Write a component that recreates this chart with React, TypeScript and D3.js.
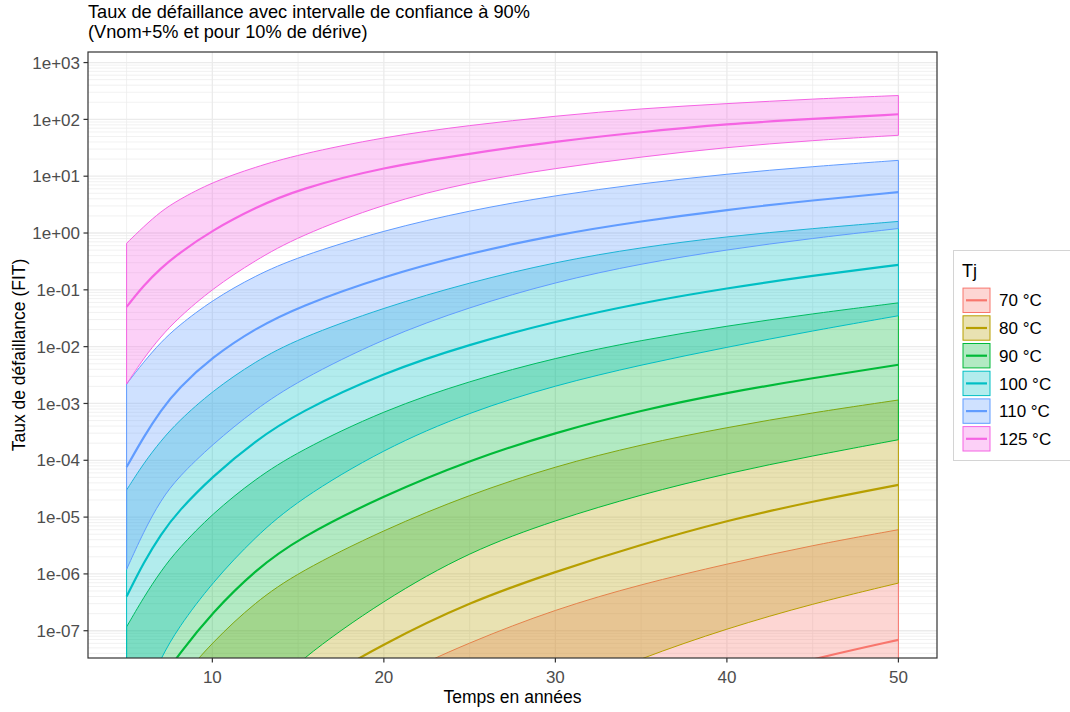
import React from "react";
import * as d3 from "d3";

// ---- data (FIT values) ----
const years = [5, 6, 7, 8, 10, 12.5, 15, 20, 25, 30, 35, 40, 45, 50];
const tjLabels = ["70 °C", "80 °C", "90 °C", "100 °C", "110 °C", "125 °C"];
const tjColors = ["#F8766D", "#B79F00", "#00BA38", "#00BFC4", "#619CFF", "#F564E3"];

const lower70 = [5e-18, 1.6e-17, 5e-17, 1.6e-16, 1e-15, 6.3e-15, 3.2e-14, 3.2e-13, 2e-12, 1e-11, 4e-11, 1.26e-10, 4e-10, 1e-9];
const median70 = [1e-15, 4e-15, 1.3e-14, 4e-14, 2.5e-13, 1.6e-12, 7.9e-12, 7.9e-11, 4e-10, 1.4e-9, 4.5e-9, 1.26e-8, 3.2e-8, 6.9e-8];
const upper70 = [5e-13, 1.6e-12, 5e-12, 1.3e-11, 6.3e-11, 3.2e-10, 1.3e-9, 1.3e-8, 6.3e-8, 2.4e-7, 6.6e-7, 1.5e-6, 3.2e-6, 6.0e-6];

const lower80 = [1.6e-14, 5e-14, 1.3e-13, 3.2e-13, 1.3e-12, 6.3e-12, 2.5e-11, 2.5e-10, 1.6e-9, 7.9e-9, 3.3e-8, 1.1e-7, 3.0e-7, 6.9e-7];
const median80 = [1e-12, 4e-12, 1.6e-11, 5e-11, 3.2e-10, 2e-9, 7.9e-9, 6.0e-8, 3.2e-7, 1.1e-6, 3.3e-6, 8.7e-6, 1.9e-5, 3.7e-5];
const upper80 = [2.5e-10, 1e-9, 4e-9, 1.26e-8, 6.3e-8, 3.2e-7, 1.07e-6, 6.0e-6, 2.5e-5, 7.9e-5, 1.9e-4, 3.8e-4, 6.9e-4, 1.15e-3];

const lower90 = [2e-12, 8e-12, 2.5e-11, 8e-11, 6.3e-10, 5e-9, 3.0e-8, 3.5e-7, 2.5e-6, 8.9e-6, 2.5e-5, 5.9e-5, 1.2e-4, 2.3e-4];
const median90 = [1.17e-9, 4.2e-9, 1.32e-8, 3.7e-8, 2.1e-7, 1.17e-6, 4.2e-6, 2.4e-5, 1.0e-4, 3.1e-4, 7.6e-4, 1.55e-3, 2.8e-3, 4.8e-3];
const upper90 = [1.17e-7, 3.9e-7, 1.12e-6, 2.75e-6, 1.15e-5, 4.7e-5, 1.43e-4, 7.6e-4, 2.5e-3, 6.4e-3, 0.013, 0.0232, 0.038, 0.059];

const lower100 = [1.26e-9, 7.1e-9, 3.3e-8, 1.12e-7, 7.1e-7, 4.5e-6, 2.0e-5, 1.6e-4, 7.1e-4, 2.1e-3, 4.8e-3, 9.8e-3, 0.019, 0.035];
const median100 = [4.0e-7, 1.6e-6, 5.0e-6, 1.26e-5, 5.2e-5, 2.2e-4, 6.9e-4, 3.5e-3, 0.011, 0.028, 0.059, 0.107, 0.178, 0.275];
const upper100 = [3.0e-5, 8.9e-5, 2.2e-4, 4.8e-4, 1.66e-3, 5.5e-3, 0.0138, 0.049, 0.135, 0.31, 0.56, 0.87, 1.2, 1.6];

const lower110 = [1.2e-6, 5.6e-6, 2.0e-5, 5.0e-5, 1.9e-4, 7.9e-4, 2.5e-3, 0.0141, 0.050, 0.138, 0.29, 0.51, 0.81, 1.2];
const median110 = [7.6e-5, 2.6e-4, 7.6e-4, 1.82e-3, 6.6e-3, 0.0209, 0.050, 0.174, 0.44, 0.93, 1.62, 2.57, 3.76, 5.25];
const upper110 = [2.2e-3, 5.4e-3, 0.012, 0.023, 0.066, 0.178, 0.38, 1.12, 2.5, 4.6, 7.4, 11, 14.8, 19];

const lower125 = [2.19e-3, 6.3e-3, 0.0151, 0.0316, 0.105, 0.331, 0.87, 3.3, 7.9, 13.8, 21.9, 32.4, 42.7, 52.5];
const median125 = [0.050, 0.12, 0.24, 0.43, 1.12, 2.8, 5.9, 14.5, 25, 41, 60, 83, 102, 123];
const upper125 = [0.66, 1.3, 2.4, 3.8, 7.9, 14.5, 24, 49, 79, 115, 155, 190, 229, 263];

const lowers = [lower70, lower80, lower90, lower100, lower110, lower125];
const medians = [median70, median80, median90, median100, median110, median125];
const uppers = [upper70, upper80, upper90, upper100, upper110, upper125];

const yTicks = [1e-7, 1e-6, 1e-5, 1e-4, 1e-3, 1e-2, 1e-1, 1e0, 1e1, 1e2, 1e3];
const yTickLabels = ["1e-07", "1e-06", "1e-05", "1e-04", "1e-03", "1e-02", "1e-01", "1e+00", "1e+01", "1e+02", "1e+03"];
const xTicks = [10, 20, 30, 40, 50];
const xMinorTicks = [5, 15, 25, 35, 45];

const titleLines = ["Taux de défaillance avec intervalle de confiance à 90%", "(Vnom+5% et pour 10% de dérive)"];
const xTitle = "Temps en années";
const yTitle = "Taux de défaillance (FIT)";
const legendTitle = "Tj";

// ---- layout ----
const W = 1070;
const H = 712;
const P = { left: 88, right: 937, top: 52, bottom: 658 };
const FONT = "'Liberation Sans', Arial, Helvetica, sans-serif";

export default function App() {
  const x = d3.scaleLinear().domain([2.75, 52.25]).range([P.left, P.right]);
  const y = d3.scaleLog().domain([Math.pow(10, -7.48), Math.pow(10, 3.186)]).range([P.bottom, P.top]);

  const minorY: number[] = [];
  for (let n = -8; n <= 3; n++) {
    for (let k = 2; k <= 9; k++) {
      const v = k * Math.pow(10, n);
      const py = y(v);
      if (py > P.top && py < P.bottom) minorY.push(v);
    }
  }

  const areaGen = (lo: number[], hi: number[]) =>
    d3
      .area<number>()
      .x((d) => x(d))
      .y0((_, i) => y(lo[i]))
      .y1((_, i) => y(hi[i]))
      .curve(d3.curveBasis)(years) as string;

  const lineGen = (vals: number[]) =>
    d3
      .line<number>()
      .x((d) => x(d))
      .y((_, i) => y(vals[i]))
      .curve(d3.curveBasis)(years) as string;

  const keyTop = 288;
  const keyStep = 27.7;

  return (
    <svg
      width={W}
      height={H}
      style={{ position: "absolute", left: 0, top: 0, background: "#fff" }}
      fontFamily={FONT}
    >
      <defs>
        <clipPath id="panel-clip">
          <rect x={P.left} y={P.top} width={P.right - P.left} height={P.bottom - P.top} />
        </clipPath>
      </defs>
      <rect x={0} y={0} width={W} height={H} fill="#fff" />

      {/* grid */}
      <g>
        {minorY.map((v, i) => (
          <line key={"my" + i} x1={P.left} x2={P.right} y1={y(v)} y2={y(v)} stroke="#EBEBEB" strokeWidth={0.7} />
        ))}
        {xMinorTicks.map((t) => (
          <line key={"mx" + t} x1={x(t)} x2={x(t)} y1={P.top} y2={P.bottom} stroke="#EBEBEB" strokeWidth={0.7} />
        ))}
        {yTicks.map((v, i) => (
          <line key={"gy" + i} x1={P.left} x2={P.right} y1={y(v)} y2={y(v)} stroke="#EBEBEB" strokeWidth={1.3} />
        ))}
        {xTicks.map((t) => (
          <line key={"gx" + t} x1={x(t)} x2={x(t)} y1={P.top} y2={P.bottom} stroke="#EBEBEB" strokeWidth={1.3} />
        ))}
      </g>

      {/* ribbons and lines */}
      <g clipPath="url(#panel-clip)">
        {tjLabels.map((lab, s) => (
          <path
            key={"rib" + s}
            d={areaGen(lowers[s], uppers[s])}
            fill={tjColors[s]}
            fillOpacity={0.3}
            stroke={tjColors[s]}
            strokeWidth={1}
          />
        ))}
        {tjLabels.map((lab, s) => (
          <path key={"med" + s} d={lineGen(medians[s])} fill="none" stroke={tjColors[s]} strokeWidth={2.2} />
        ))}
      </g>

      {/* panel border */}
      <rect
        x={P.left}
        y={P.top}
        width={P.right - P.left}
        height={P.bottom - P.top}
        fill="none"
        stroke="#333333"
        strokeWidth={1.2}
      />

      {/* y axis */}
      {yTicks.map((v, i) => (
        <g key={"yt" + i}>
          <line x1={P.left - 4.5} x2={P.left} y1={y(v)} y2={y(v)} stroke="#333333" strokeWidth={1.2} />
          <text x={P.left - 8} y={y(v)} dy="0.36em" textAnchor="end" fontSize={17} fill="#4D4D4D">
            {yTickLabels[i]}
          </text>
        </g>
      ))}

      {/* x axis */}
      {xTicks.map((t) => (
        <g key={"xt" + t}>
          <line x1={x(t)} x2={x(t)} y1={P.bottom} y2={P.bottom + 4.5} stroke="#333333" strokeWidth={1.2} />
          <text x={x(t)} y={682.7} textAnchor="middle" fontSize={17} fill="#4D4D4D">
            {t}
          </text>
        </g>
      ))}

      {/* axis titles */}
      <text x={(P.left + P.right) / 2} y={703} textAnchor="middle" fontSize={17.5} fill="#000">
        {xTitle}
      </text>
      <text
        transform={`translate(25, ${(P.top + P.bottom) / 2}) rotate(-90)`}
        textAnchor="middle"
        fontSize={17.5}
        fill="#000"
      >
        {yTitle}
      </text>

      {/* title */}
      {titleLines.map((l, i) => (
        <text key={"ti" + i} x={P.left} y={17.6 + i * 20.4} fontSize={18.2} fill="#000">
          {l}
        </text>
      ))}

      {/* legend */}
      <rect x={953.5} y={250.5} width={125} height={210} fill="#fff" stroke="#D4D4D4" strokeWidth={1} />
      <text x={962} y={276.5} fontSize={18} fill="#000">
        {legendTitle}
      </text>
      {tjLabels.map((lab, s) => {
        const cy = keyTop + 12.3 + s * keyStep;
        return (
          <g key={"lg" + s}>
            <rect x={963} y={cy - 12.2} width={27} height={24.4} fill="#fff" />
            <rect
              x={963}
              y={cy - 12.2}
              width={27}
              height={24.4}
              fill={tjColors[s]}
              fillOpacity={0.3}
              stroke={tjColors[s]}
              strokeWidth={1}
            />
            <line x1={966} x2={987} y1={cy} y2={cy} stroke={tjColors[s]} strokeWidth={2.2} />
            <text x={999} y={cy} dy="0.36em" fontSize={17} fill="#000">
              {lab}
            </text>
          </g>
        );
      })}
    </svg>
  );
}
